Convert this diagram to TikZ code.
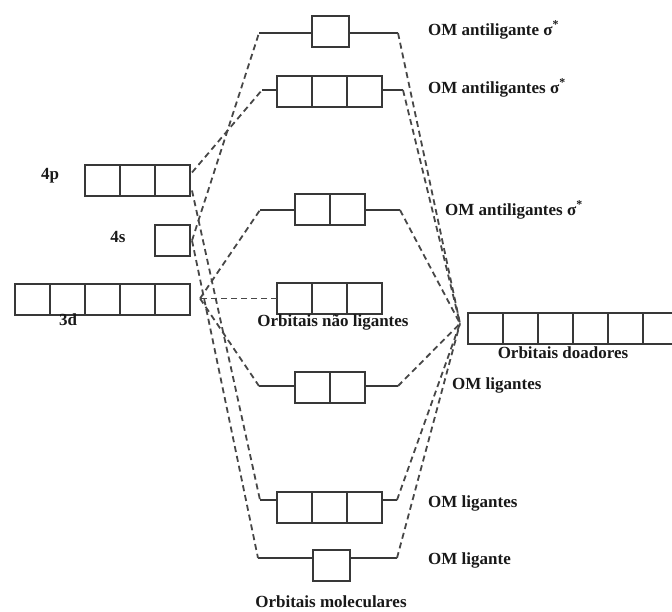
\documentclass[tikz,border=0pt]{standalone}
\usepackage{fontspec}
\setmainfont{Liberation Serif}
\usetikzlibrary{positioning,calc}
\begin{document}
\begin{tikzpicture}[x=1pt,y=-1pt,
  orb/.style={draw=black!78, line width=1.5pt, minimum width=35pt, minimum height=31pt, inner sep=0pt, outer sep=0pt},
  lvl/.style={draw=black!78, line width=1.5pt},
  conn/.style={draw=black!72, line width=1.8pt, dash pattern=on 6pt off 4pt},
  lab/.style={font=\fontsize{17}{19}\selectfont\bfseries, inner sep=0pt, text=black!90},
]
\useasboundingbox (0,0) rectangle (672,612);
\clip (0,0) rectangle (672,612);

% ---------- atomic orbitals (metal) ----------
\node[orb] (p1) at (102.5,180.5) {};
\node[orb, right=0pt of p1] (p2) {};
\node[orb, right=0pt of p2] (p3) {};
\node[orb] (s1) at (172.5,240.5) {};
\node[orb] (d1) at (32.5,299.5) {};
\node[orb, right=0pt of d1] (d2) {};
\node[orb, right=0pt of d2] (d3) {};
\node[orb, right=0pt of d3] (d4) {};
\node[orb, right=0pt of d4] (d5) {};
\node[lab] (l4p) at (50,176) {4p};
\node[lab] (l4s) at (118,237) {4s};
\node[lab] (l3d) at (68,320) {3d};

% ---------- molecular orbitals ----------
% a1g*
\node[orb, minimum width=37pt] (a1) at (330.5,31.5) {};
% t1u*
\node[orb] (t1) at (294.5,91.5) {};
\node[orb, right=0pt of t1] (t2) {};
\node[orb, right=0pt of t2] (t3) {};
% eg*
\node[orb] (e1) at (312.5,209.5) {};
\node[orb, right=0pt of e1] (e2) {};
% t2g non-bonding
\node[orb] (n1) at (294.5,298.5) {};
\node[orb, right=0pt of n1] (n2) {};
\node[orb, right=0pt of n2] (n3) {};
% eg
\node[orb] (f1) at (312.5,387.5) {};
\node[orb, right=0pt of f1] (f2) {};
% t1u
\node[orb] (u1) at (294.5,507.5) {};
\node[orb, right=0pt of u1] (u2) {};
\node[orb, right=0pt of u2] (u3) {};
% a1g
\node[orb, minimum width=37pt] (b1) at (331.5,565.5) {};

% ---------- ligand donor orbitals ----------
\node[orb] (g1) at (485.5,328.5) {};
\node[orb, right=0pt of g1] (g2) {};
\node[orb, right=0pt of g2] (g3) {};
\node[orb, right=0pt of g3] (g4) {};
\node[orb, right=0pt of g4] (g5) {};
\node[orb, right=0pt of g5] (g6) {};

% ---------- level lines ----------
\coordinate (L1) at (259,33);  \coordinate (R1) at (398,33);
\coordinate (L2) at (262,90);  \coordinate (R2) at (403,90);
\coordinate (L3) at (260,210); \coordinate (R3) at (400,210);
\coordinate (L4) at (259,386); \coordinate (R4) at (398,386);
\coordinate (L5) at (260,500); \coordinate (R5) at (397,500);
\coordinate (L6) at (258,558); \coordinate (R6) at (397,558);

\draw[lvl] (L1) -- (L1 -| a1.west); \draw[lvl] (R1) -- (R1 -| a1.east);
\draw[lvl] (L2) -- (L2 -| t1.west); \draw[lvl] (R2) -- (R2 -| t3.east);
\draw[lvl] (L3) -- (L3 -| e1.west); \draw[lvl] (R3) -- (R3 -| e2.east);
\draw[lvl] (L4) -- (L4 -| f1.west); \draw[lvl] (R4) -- (R4 -| f2.east);
\draw[lvl] (L5) -- (L5 -| u1.west); \draw[lvl] (R5) -- (R5 -| u3.east);
\draw[lvl] (L6) -- (L6 -| b1.west); \draw[lvl] (R6) -- (R6 -| b1.east);

% ---------- connection points ----------
\coordinate (c4pu) at ($(p3.east)+(2,-8)$);
\coordinate (c4pd) at ($(p3.east)+(2,10)$);
\coordinate (c4s)  at ($(s1.east)+(2,0)$);
\coordinate (c3d)  at ($(d5.east)+(10,-1)$);
\coordinate (D)    at ($(g1.west)+(-8,-5)$);

% ---------- dashed correlation lines ----------
\draw[conn] (c4pu) -- (L2);
\draw[conn] (c4pd) -- (L5);
\draw[conn] (c4s) -- (L1);
\draw[conn] (c4s) -- (L6);
\draw[conn] (c3d) -- (L3);
\draw[conn] (c3d) -- (L4);
\draw[conn] (n1.west) -- (c3d);
\draw[conn] (R1) -- (D);
\draw[conn] (R2) -- (D);
\draw[conn] (R3) -- (D);
\draw[conn] (R4) -- (D);
\draw[conn] (R5) -- (D);
\draw[conn] (R6) -- (D);

% ---------- labels ----------
\node[lab, anchor=west] (m1) at (428,30) {OM antiligante σ\textsuperscript{*}};
\node[lab, anchor=west] (m2) at (428,88) {OM antiligantes σ\textsuperscript{*}};
\node[lab, anchor=west] (m3) at (445,210) {OM antiligantes σ\textsuperscript{*}};
\node[lab, anchor=west] (m4) at (452,385) {OM ligantes};
\node[lab, anchor=west] (m5) at (428,503) {OM ligantes};
\node[lab, anchor=west] (m6) at (428,560) {OM ligante};
\node[lab] (nl) at (333,322) {Orbitais não ligantes};
\node[lab] (dl) at (563,353) {Orbitais doadores};
\node[lab] (ml) at (331,602) {Orbitais moleculares};
\end{tikzpicture}
\end{document}
